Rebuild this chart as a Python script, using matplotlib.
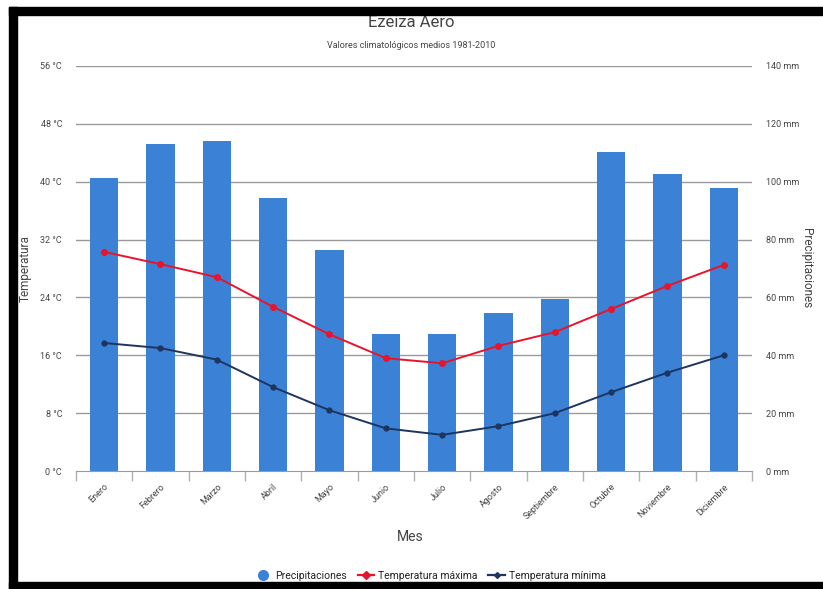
import matplotlib
matplotlib.use("Agg")
import matplotlib.pyplot as plt
from matplotlib.patches import Rectangle
from matplotlib.lines import Line2D
import numpy as np

plt.rcParams['font.family'] = ['Roboto', 'DejaVu Sans']

# Ezeiza Aero, valores medios 1981-2010
meses = ["Enero", "Febrero", "Marzo", "Abril", "Mayo", "Junio", "Julio",
         "Agosto", "Septiembre", "Octubre", "Noviembre", "Diciembre"]
precipitaciones = [101.3, 113.0, 114.0, 94.4, 76.4, 47.4, 47.4, 54.6, 59.5, 110.3, 102.7, 97.8]
temp_max = [30.3, 28.6, 26.8, 22.7, 18.9, 15.6, 14.9, 17.3, 19.2, 22.4, 25.6, 28.5]
temp_min = [17.7, 17.0, 15.4, 11.6, 8.4, 5.9, 5.0, 6.2, 8.0, 10.9, 13.6, 16.0]

temp_ticks = [0, 8, 16, 24, 32, 40, 48, 56]
prec_ticks = [0, 20, 40, 60, 80, 100, 120, 140]

BLUE = "#3b82d6"
RED = "#e8142b"
NAVY = "#1d355f"
TXT = "#444444"

fig = plt.figure(figsize=(8.23, 5.89), dpi=100)
ax = fig.add_axes([0.0923, 0.2003, 0.8214, 0.6877])
ax2 = ax.twinx()

x = np.arange(len(meses))

# bars go on the precipitation axis, lines on top of them on the temperature axis
ax2.bar(x, precipitaciones, width=0.5, color=BLUE, zorder=2)
ax2.set_ylim(0, 140)
ax.set_ylim(0, 56)
ax.set_xlim(-0.5, len(meses) - 0.5)

ax.set_zorder(ax2.get_zorder() + 1)
ax.patch.set_visible(False)

ax.plot(x, temp_max, color=RED, lw=1.4, marker="o", ms=4, zorder=3)
ax.plot(x, temp_min, color=NAVY, lw=1.4, marker="o", ms=3.5, zorder=3)

for t in temp_ticks[1:]:
    ax2.axhline(t * 140 / 56, color="#9a9a9a", lw=1.0, zorder=1)

ax.set_yticks(temp_ticks)
ax.set_yticklabels([f"{t} °C" for t in temp_ticks], fontsize=6.5, color=TXT)
ax2.set_yticks(prec_ticks)
ax2.set_yticklabels([f"{p} mm" for p in prec_ticks], fontsize=6.5, color=TXT)
ax.tick_params(axis="y", length=0, pad=10)
ax2.tick_params(axis="y", length=0, pad=10)

# month labels centred, small tick marks at the category borders
ax.set_xticks(x)
ax.set_xticklabels(meses, rotation=45, ha="right", rotation_mode="anchor",
                   fontsize=6.5, color=TXT)
ax.tick_params(axis="x", length=0, pad=8)
ax.set_xticks(np.arange(-0.5, len(meses)), minor=True)
ax.tick_params(axis="x", which="minor", length=7, color="#b0b0b0", width=1)

for a in (ax, ax2):
    for side in ("top", "left", "right"):
        a.spines[side].set_visible(False)
ax.spines["bottom"].set_color("#9a9a9a")
ax2.spines["bottom"].set_visible(False)

ax.set_ylabel("Temperatura", fontsize=8.5, color=TXT, labelpad=2)
ax.yaxis.set_label_coords(-0.065, 0.5)
ax2.set_ylabel("Precipitaciones", fontsize=8.5, color=TXT, rotation=-90, labelpad=12)
ax2.yaxis.set_label_coords(1.09, 0.5)
ax.set_xlabel("Mes", fontsize=10, color=TXT)
ax.xaxis.set_label_coords(0.494, -0.145)

fig.text(0.5, 0.962, "Ezeiza Aero", ha="center", va="center", fontsize=12, color=TXT)
fig.text(0.5, 0.923, "Valores climatológicos medios 1981-2010", ha="center",
         va="center", fontsize=6.5, color=TXT)

handles = [
    Line2D([], [], ls="none", marker="o", ms=7, color=BLUE),
    Line2D([], [], color=RED, lw=1.6, marker="D", ms=4),
    Line2D([], [], color=NAVY, lw=1.6, marker="D", ms=3),
]
fig.legend(handles, ["Precipitaciones", "Temperatura máxima", "Temperatura mínima"],
           loc="center", bbox_to_anchor=(0.523, 0.022), ncol=3, frameon=False,
           fontsize=7.5, handlelength=1.6, handletextpad=0.4, columnspacing=1.0,
           labelcolor="#222222")

# black frame around the chart
W, H = 823, 589
for (x0, y0, w, h) in [(9, 7, 814, 8), (9, 7, 8, 582), (9, 582, 814, 7)]:
    fig.add_artist(Rectangle((x0 / W, 1 - (y0 + h) / H), w / W, h / H,
                             transform=fig.transFigure, color="black", zorder=10))

fig.savefig("out.png", dpi=100)
